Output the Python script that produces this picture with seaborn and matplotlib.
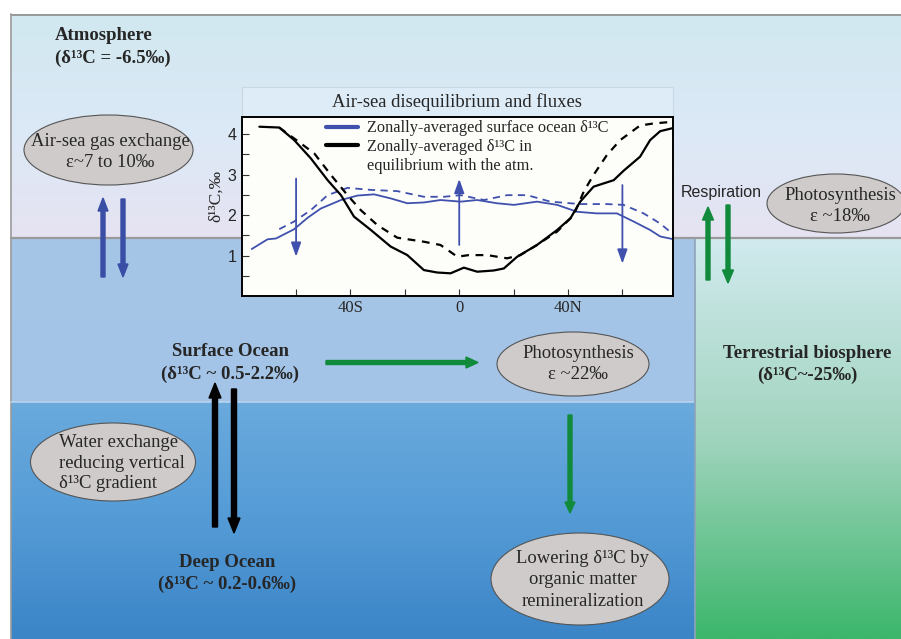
import matplotlib
matplotlib.use("Agg")
import matplotlib.pyplot as plt
import seaborn as sns
import numpy as np
from matplotlib.patches import Ellipse, Rectangle
from matplotlib.colors import LinearSegmentedColormap
from matplotlib.lines import Line2D

# --- inset data (zonal mean d13C, permil) ---
surf_lat = [-76.3, -70.5, -67.4, -60.7, -55.8, -50.9, -43.5, -37.4, -31.3, -25.2, -19.1, -13.0, -6.9,
            0.5, 6.6, 13.9, 20.1, 28.6, 36.0, 43.3, 50.6, 58.0, 64.1, 70.2, 73.9, 78.2]
surf_d13c = [1.16, 1.40, 1.42, 1.65, 1.93, 2.16, 2.37, 2.48, 2.51, 2.41, 2.29, 2.31, 2.37,
             2.33, 2.37, 2.29, 2.25, 2.33, 2.25, 2.08, 2.04, 2.04, 1.84, 1.63, 1.47, 1.41]

surf_dash_lat = [-66.2, -60.7, -54.6, -48.4, -41.1, -32.5, -22.8, -13.0, -5.6, 0.5, 9.1, 17.6,
                 25.0, 33.5, 44.5, 54.3, 60.4, 67.8, 73.9, 78.2]
surf_dash_d13c = [1.65, 1.84, 2.12, 2.49, 2.67, 2.62, 2.59, 2.45, 2.45, 2.49, 2.37, 2.49,
                  2.49, 2.33, 2.27, 2.27, 2.25, 2.04, 1.79, 1.55]

eq_lat = [-73.5, -66.2, -60.7, -54.6, -48.4, -43.5, -38.7, -32.5, -25.2, -19.1, -13.0, -8.1, -3.2,
          1.7, 6.6, 12.7, 16.4, 21.3, 28.6, 36.0, 40.9, 44.5, 49.4, 56.8, 60.4, 66.5, 70.2, 73.9, 78.2]
eq_d13c = [4.18, 4.16, 3.85, 3.40, 2.86, 2.49, 1.96, 1.63, 1.22, 1.01, 0.64, 0.58, 0.56,
           0.70, 0.60, 0.63, 0.68, 0.97, 1.26, 1.63, 1.92, 2.33, 2.70, 2.86, 3.09, 3.44, 3.85, 4.07, 4.14]

eq_dash_lat = [-66.2, -60.7, -53.3, -47.2, -41.1, -36.2, -30.1, -22.8, -13.0, -6.9, -0.7, 3.5, 10.3,
               17.6, 22.5, 28.6, 36.0, 42.1, 45.8, 49.4, 54.3, 59.2, 66.5, 71.4, 78.2]
eq_dash_d13c = [4.16, 3.89, 3.52, 2.99, 2.49, 2.12, 1.75, 1.44, 1.34, 1.26, 0.97, 1.01, 1.01,
                0.93, 1.01, 1.26, 1.59, 2.00, 2.58, 2.99, 3.48, 3.85, 4.21, 4.26, 4.30]

# blue flux arrows in the inset: latitude, start, end
flux_lat = [-60, 0, 60]
flux_start = [2.90, 1.26, 2.74]
flux_end = [0.97, 2.89, 0.80]

lat_ticks = [-40, 0, 40]
lat_labels = ["40S", "0", "40N"]

legend_labels = ["Zonally-averaged surface ocean δ¹³C",
                 "Zonally-averaged δ¹³C in",
                 "equilibrium with the atm."]

sns.set_theme(style="ticks")
plt.rcParams["font.family"] = ["Liberation Serif", "DejaVu Serif"]

W, H = 901, 639
fig = plt.figure(figsize=(W / 100, H / 100), dpi=100, facecolor="white")

# background canvas in pixel units
bg = fig.add_axes([0, 0, 1, 1])
bg.axis("off")


def vgrad(x0, x1, y0, y1, colors):
    cmap = LinearSegmentedColormap.from_list("g", colors)
    arr = np.linspace(0, 1, 256).reshape(-1, 1)
    bg.imshow(arr, cmap=cmap, extent=(x0, x1, y1, y0), aspect="auto",
              interpolation="bilinear", zorder=0)


vgrad(11, W, 14, 238, ["#d1e8f0", "#dbe9f6", "#e6e3f2"])   # atmosphere
vgrad(11, 695, 238, 402, ["#a6c6e8", "#a4c4e7"])            # surface ocean
vgrad(11, 695, 402, H, ["#6aaadd", "#549bd6", "#3b84c6"])   # deep ocean
vgrad(695, W, 238, H, ["#d1eaee", "#a1d4be", "#3cb66b"])    # terrestrial
bg.set_xlim(0, W)
bg.set_ylim(H, 0)

bg.plot([11, W], [14.5, 14.5], color="#8c8c8c", lw=1.2, zorder=1)
bg.plot([11, 11], [14, H], color="#9a9a9a", lw=1.2, zorder=1)
bg.plot([11, W], [238, 238], color="#9a9a9a", lw=1.6, zorder=1)
bg.plot([11, 695], [402, 402], color="#b8d3ee", lw=1.2, zorder=1)
bg.plot([695, 695], [238, H], color="#8fa3b8", lw=1.2, zorder=1)

# ellipses
ell_fc, ell_ec = "#cfcbca", "#555555"
for cx, cy, ew, eh in [(108.5, 150, 169, 70), (836, 203.5, 138, 59), (573, 364, 152, 64),
                       (580, 579, 178, 92), (113, 462, 165, 78)]:
    bg.add_patch(Ellipse((cx, cy), ew, eh, fc=ell_fc, ec=ell_ec, lw=0.8, zorder=2))

efs = 13.4
els = 1.32
bg.text(110, 152, "Air-sea gas exchange\nε~7 to 10‰", fontsize=efs, ha="center", va="center",
        linespacing=els, zorder=3)
bg.text(840, 206, "Photosynthesis\nε ~18‰", fontsize=efs, ha="center", va="center",
        linespacing=els, zorder=3)
bg.text(578, 364, "Photosynthesis\nε ~22‰", fontsize=efs, ha="center", va="center",
        linespacing=els, zorder=3)
bg.text(583, 580, "Lowering δ¹³C by\norganic matter\nremineralization", fontsize=efs,
        ha="center", va="center", linespacing=els, zorder=3)
bg.text(59, 463, "Water exchange\nreducing vertical\nδ¹³C gradient", fontsize=efs,
        ha="left", va="center", linespacing=1.24, zorder=3)

# bold reservoir labels
bfs = 13.5
bls = 1.36
bg.text(55, 47, "Atmosphere\n(δ¹³C = -6.5‰)", fontsize=bfs, fontweight="bold", ha="left",
        va="center", linespacing=bls, zorder=3)
bg.text(230, 363, "Surface Ocean\n(δ¹³C ~ 0.5-2.2‰)", fontsize=bfs, fontweight="bold",
        ha="center", va="center", linespacing=bls, zorder=3)
bg.text(227, 573.5, "Deep Ocean\n(δ¹³C ~ 0.2-0.6‰)", fontsize=bfs, fontweight="bold",
        ha="center", va="center", linespacing=bls, zorder=3)
bg.text(807, 364.5, "Terrestrial biosphere\n(δ¹³C~-25‰)", fontsize=bfs, fontweight="bold",
        ha="center", va="center", linespacing=1.3, zorder=3)
bg.text(721, 192, "Respiration", family="Liberation Sans", fontsize=11.5, ha="center",
        va="center", zorder=3)

# flux arrows
blue, green = "#3a4ea6", "#118a3b"
arr_kw = dict(length_includes_head=True, zorder=3)
bg.arrow(103, 277, 0, -79, width=4, head_width=10, head_length=13, color=blue, **arr_kw)
bg.arrow(123, 199, 0, 78, width=4, head_width=10, head_length=13, color=blue, **arr_kw)
bg.arrow(708, 280, 0, -73, width=4, head_width=11, head_length=13, color=green, **arr_kw)
bg.arrow(728, 205, 0, 78, width=4, head_width=11, head_length=13, color=green, **arr_kw)
bg.arrow(215, 527, 0, -144, width=5, head_width=12, head_length=15, color="black", **arr_kw)
bg.arrow(234, 389, 0, 144, width=5, head_width=12, head_length=15, color="black", **arr_kw)
bg.arrow(326, 362.5, 152, 0, width=4, head_width=11, head_length=12, color=green, **arr_kw)
bg.arrow(570, 415, 0, 98, width=4, head_width=10, head_length=11, color=green, **arr_kw)

# inset title box
bg.add_patch(Rectangle((241.5, 87), 431, 30, fc="#deecf7", ec="#c9d8e4", lw=0.8, zorder=2))
bg.text(457, 102, "Air-sea disequilibrium and fluxes", fontsize=13.4, ha="center", va="center",
        zorder=3)

# inset chart
ax = fig.add_axes([241.7 / W, (H - 296) / H, 431 / W, 179 / H])
ax.set_facecolor("#fdfdfa")
line_blue = "#3f51ad"
sns.lineplot(x=surf_lat, y=surf_d13c, ax=ax, color=line_blue, lw=1.3, sort=False)
sns.lineplot(x=surf_dash_lat, y=surf_dash_d13c, ax=ax, color=line_blue, lw=1.3, sort=False,
             linestyle=(0, (4, 3)))
sns.lineplot(x=eq_lat, y=eq_d13c, ax=ax, color="black", lw=1.6, sort=False)
sns.lineplot(x=eq_dash_lat, y=eq_dash_d13c, ax=ax, color="black", lw=1.6, sort=False,
             linestyle=(0, (3.5, 3)))

for lat, y0, y1 in zip(flux_lat, flux_start, flux_end):
    ax.annotate("", xy=(lat, y1), xytext=(lat, y0),
                arrowprops=dict(arrowstyle="-|>,head_width=0.25,head_length=0.7",
                                color=line_blue, lw=1.3, shrinkA=0, shrinkB=0))

ax.set_xlim(-80, 78.5)
ax.set_ylim(0, 4.42)
ax.set_xticks(lat_ticks)
ax.set_xticklabels(lat_labels)
ax.set_xticks([-60, -20, 20, 60], minor=True)
ax.set_yticks([1, 2, 3, 4])
ax.set_yticks([0.5, 1.5, 2.5, 3.5], minor=True)
ax.tick_params(which="both", direction="in", length=5, width=0.8, color="#333333")
ax.tick_params(axis="x", labelsize=12, pad=3)
ax.tick_params(axis="y", labelsize=11.5, pad=4, labelfontfamily="Liberation Sans")
for s in ax.spines.values():
    s.set_color("black")
    s.set_linewidth(1.4)
ax.set_xlabel("")
ax.set_ylabel("δ¹³C,‰", fontsize=12.5)
ax.yaxis.set_label_coords(-0.041, 0.56)

handles = [Line2D([], [], color=line_blue, lw=3),
           Line2D([], [], color="black", lw=3),
           Line2D([], [], color="none")]
ax.legend(handles, legend_labels, loc="upper left", bbox_to_anchor=(0.189, 1.0),
          frameon=False, fontsize=11.8, handlelength=1.9, handletextpad=0.6,
          labelspacing=0.18, borderpad=0.2, borderaxespad=0)

fig.savefig("out.png", dpi=100, facecolor="white")
